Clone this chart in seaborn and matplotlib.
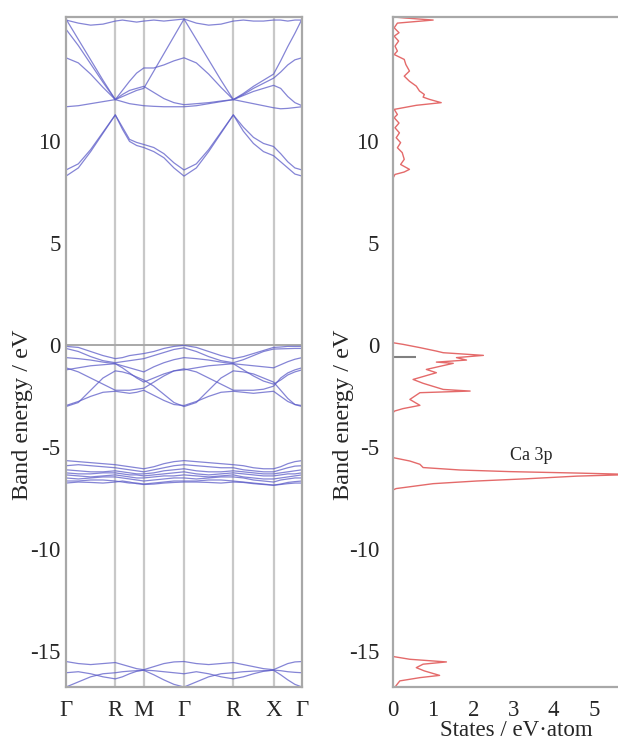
import numpy as np
import pandas as pd
import matplotlib
matplotlib.use("Agg")
import matplotlib.pyplot as plt
import seaborn as sns

# high-symmetry path (cubic cell, units of pi/a)
k_labels = ["Γ", "R", "M", "Γ", "R", "X", "Γ"]
k_ticks = [0.0, 1.732, 2.732, 4.146, 5.878, 7.292, 8.292]

# band energies (eV) sampled at each high-symmetry point and 3 points between them
# order: G q q q R q q q M q q q G q q q R q q q X q q q G
bands = {
    "T1": [15.95, 15.8, 15.7, 15.75, 15.9, 15.95, 15.9, 15.85, 15.9, 15.95, 15.9, 15.95, 16.0,
           15.8, 15.7, 15.75, 15.9, 15.95, 15.9, 15.9, 15.95, 15.95, 15.9, 15.95, 15.95],
    "C5": [16.0, 15.0, 14.0, 13.0, 12.05, 12.2, 12.35, 12.5, 12.6, 13.45, 14.3, 15.15, 16.0,
           15.0, 14.0, 13.0, 12.05, 12.35, 12.7, 13.0, 13.3, 13.95, 14.65, 15.3, 16.0],
    "C6": [15.5, 14.7, 13.8, 12.9, 12.05, 12.3, 12.5, 12.6, 12.7, 12.4, 12.1, 11.9, 11.8,
           11.85, 11.9, 11.98, 12.05, 12.25, 12.45, 12.6, 12.75, 12.6, 12.2, 11.9, 11.75],
    "C4": [14.1, 13.85, 13.3, 12.65, 12.05, 12.5, 12.95, 13.35, 13.6, 13.6, 13.75, 13.95, 14.1,
           13.85, 13.3, 12.65, 12.05, 12.3, 12.6, 12.85, 13.1, 13.4, 13.75, 14.0, 14.1],
    "C3": [11.7, 11.75, 11.85, 11.95, 12.05, 11.95, 11.85, 11.8, 11.75, 11.72, 11.7, 11.7, 11.7,
           11.75, 11.85, 11.95, 12.05, 11.95, 11.85, 11.75, 11.65, 11.6, 11.62, 11.66, 11.7],
    "C2": [8.6, 8.9, 9.6, 10.45, 11.3, 10.7, 10.1, 9.95, 9.85, 9.7, 9.4, 8.95, 8.6,
           8.9, 9.6, 10.45, 11.3, 10.7, 10.2, 9.9, 9.75, 9.4, 9.0, 8.7, 8.6],
    "C1": [8.3, 8.7, 9.5, 10.4, 11.3, 10.6, 10.0, 9.8, 9.7, 9.5, 9.2, 8.7, 8.3,
           8.7, 9.5, 10.4, 11.3, 10.5, 9.9, 9.5, 9.3, 9.0, 8.7, 8.4, 8.3],
    "V1": [-0.05, -0.1, -0.3, -0.5, -0.65, -0.6, -0.5, -0.45, -0.4, -0.3, -0.15, -0.05, 0.0,
           -0.1, -0.3, -0.5, -0.65, -0.55, -0.4, -0.25, -0.1, -0.08, -0.05, -0.05, -0.05],
    "V2": [-0.15, -0.3, -0.55, -0.75, -0.85, -0.8, -0.75, -0.7, -0.65, -0.5, -0.35, -0.2, -0.12,
           -0.3, -0.55, -0.75, -0.85, -0.7, -0.5, -0.3, -0.18, -0.17, -0.16, -0.15, -0.15],
    "V3": [-0.6, -0.65, -0.72, -0.82, -0.9, -1.0, -1.1, -1.2, -1.3, -1.05, -0.85, -0.7, -0.6,
           -0.65, -0.72, -0.82, -0.9, -0.95, -1.0, -1.05, -1.1, -0.95, -0.8, -0.68, -0.6],
    "V4": [-1.1, -1.3, -1.6, -1.9, -2.2, -2.2, -2.2, -2.15, -2.1, -1.8, -1.5, -1.25, -1.15,
           -1.3, -1.6, -1.9, -2.2, -2.2, -2.2, -2.15, -2.0, -1.6, -1.35, -1.2, -1.1],
    "V5": [-1.2, -1.1, -1.0, -0.95, -0.9, -1.1, -1.35, -1.6, -1.8, -1.6, -1.4, -1.25, -1.2,
           -1.1, -1.0, -0.95, -0.9, -1.2, -1.5, -1.75, -1.9, -1.7, -1.45, -1.3, -1.2],
    "V6": [-3.0, -2.8, -2.2, -1.6, -1.25, -1.3, -1.4, -1.55, -1.7, -2.0, -2.4, -2.8, -3.0,
           -2.8, -2.2, -1.6, -1.25, -1.3, -1.4, -1.6, -1.8, -2.2, -2.6, -2.9, -3.0],
    "V7": [-2.95, -2.75, -2.5, -2.3, -2.25, -2.3, -2.35, -2.3, -2.2, -2.45, -2.7, -2.9, -2.95,
           -2.75, -2.5, -2.3, -2.25, -2.3, -2.35, -2.3, -2.25, -2.5, -2.75, -2.9, -2.95],
    "P1": [-5.65, -5.7, -5.75, -5.8, -5.85, -5.9, -5.95, -6.0, -6.05, -5.95, -5.8, -5.7, -5.65,
           -5.7, -5.75, -5.8, -5.85, -5.9, -6.0, -6.05, -6.05, -5.95, -5.8, -5.7, -5.65],
    "P2": [-5.9, -5.85, -5.9, -5.95, -6.0, -6.05, -6.1, -6.15, -6.2, -6.1, -6.0, -5.9, -5.85,
           -5.9, -5.95, -6.0, -6.0, -6.1, -6.15, -6.2, -6.2, -6.1, -6.0, -5.92, -5.9],
    "P3": [-6.1, -6.15, -6.2, -6.2, -6.15, -6.2, -6.25, -6.3, -6.3, -6.25, -6.15, -6.1, -6.05,
           -6.15, -6.2, -6.2, -6.15, -6.2, -6.25, -6.3, -6.3, -6.25, -6.2, -6.15, -6.1],
    "P4": [-6.25, -6.3, -6.3, -6.25, -6.25, -6.3, -6.35, -6.35, -6.4, -6.35, -6.3, -6.25, -6.2,
           -6.3, -6.35, -6.3, -6.25, -6.3, -6.35, -6.4, -6.4, -6.35, -6.3, -6.3, -6.25],
    "P5": [-6.35, -6.4, -6.45, -6.4, -6.35, -6.4, -6.45, -6.5, -6.5, -6.45, -6.4, -6.4, -6.35,
           -6.4, -6.45, -6.4, -6.35, -6.45, -6.5, -6.55, -6.55, -6.5, -6.45, -6.4, -6.35],
    "P6": [-6.5, -6.55, -6.5, -6.45, -6.45, -6.5, -6.55, -6.6, -6.65, -6.6, -6.55, -6.5, -6.5,
           -6.55, -6.5, -6.45, -6.45, -6.5, -6.6, -6.65, -6.7, -6.6, -6.55, -6.5, -6.5],
    "P7": [-6.65, -6.65, -6.6, -6.6, -6.65, -6.7, -6.75, -6.75, -6.8, -6.75, -6.7, -6.65, -6.65,
           -6.65, -6.6, -6.6, -6.65, -6.7, -6.75, -6.8, -6.85, -6.8, -6.72, -6.68, -6.65],
    "P8": [-6.75, -6.7, -6.72, -6.75, -6.7, -6.65, -6.7, -6.78, -6.82, -6.8, -6.75, -6.72, -6.7,
           -6.7, -6.72, -6.75, -6.7, -6.72, -6.78, -6.82, -6.86, -6.82, -6.78, -6.75, -6.75],
    "S1": [-15.5, -15.6, -15.65, -15.6, -15.55, -15.65, -15.75, -15.85, -15.9, -15.75, -15.6, -15.52, -15.5,
           -15.6, -15.65, -15.6, -15.55, -15.65, -15.75, -15.85, -15.9, -15.75, -15.6, -15.52, -15.5],
    "S2": [-16.05, -16.0, -16.1, -16.25, -16.35, -16.25, -16.1, -15.98, -15.92, -15.95, -16.0, -16.05, -16.1,
           -16.0, -16.1, -16.25, -16.35, -16.25, -16.1, -15.98, -15.92, -15.95, -16.0, -16.03, -16.05],
    "S3": [-16.75, -16.5, -16.25, -16.1, -16.05, -16.0, -15.97, -15.95, -15.93, -16.15, -16.4, -16.62, -16.75,
           -16.5, -16.25, -16.1, -16.05, -16.0, -15.97, -15.95, -15.93, -16.15, -16.4, -16.62, -16.75],
}

# Ca partial DOS (states / eV·atom) against energy
dos_energy = [16.1, 16.05, 15.95, 15.8, 15.57, 15.33, 15.16, 14.92, 14.67, 14.43, 14.26, 14.02,
              13.77, 13.45, 13.2, 12.95, 12.71, 12.47, 12.3, 12.17, 12.06, 11.9, 11.77, 11.57,
              11.32, 11.16, 10.9, 10.67, 10.42, 10.18, 9.94, 9.69, 9.45, 9.12, 8.87, 8.63, 8.5,
              8.38, 8.2, 0.2, 0.13, 0.05, -0.11, -0.28, -0.36, -0.49, -0.6, -0.72, -0.82, -0.88,
              -1.18, -1.34, -1.67, -1.86, -2.16, -2.24, -2.32, -2.65, -2.94, -3.1, -3.22, -3.3,
              -5.45, -5.51, -5.67, -5.83, -5.99, -6.11, -6.19, -6.26, -6.33, -6.41, -6.54, -6.65,
              -6.78, -7.02, -7.09, -15.2, -15.26, -15.39, -15.52, -15.63, -15.8, -15.96, -16.18,
              -16.29, -16.45, -16.7]
dos_states = [0.02, 0.3, 1.0, 0.11, 0.03, 0.15, 0.03, 0.14, 0.05, 0.11, 0.03, 0.28,
              0.32, 0.41, 0.28, 0.41, 0.58, 0.66, 0.78, 0.75, 0.91, 1.2, 0.58, 0.03,
              0.11, 0.03, 0.15, 0.05, 0.16, 0.08, 0.19, 0.11, 0.23, 0.28, 0.19, 0.41, 0.28,
              0.05, 0.0, 0.0, 0.0, 0.25, 0.67, 1.08, 1.25, 2.25, 1.58, 1.83, 1.08, 1.5,
              0.83, 1.08, 0.5, 0.75, 1.25, 1.92, 0.67, 0.42, 0.67, 0.25, 0.04, 0.0,
              0.0, 0.02, 0.42, 0.67, 0.75, 1.67, 2.92, 4.58, 6.0, 4.58, 3.33, 2.08,
              1.0, 0.08, 0.0, 0.0, 0.02, 0.42, 1.33, 0.75, 0.58, 0.78, 1.16,
              0.67, 0.17, 0.07]

fermi_mark_e = -0.55
fermi_mark_len = 0.57
peak_label = "Ca 3p"
peak_label_pos = (3.45, -5.4)

# k coordinate of every sample: 4 steps per segment along the path
k_grid = np.concatenate([np.linspace(a, b, 5)[:-1] for a, b in zip(k_ticks[:-1], k_ticks[1:])] + [[k_ticks[-1]]])

band_df = pd.concat(
    [pd.DataFrame({"k": k_grid, "E": e, "band": name}) for name, e in bands.items()],
    ignore_index=True,
)
dos_df = pd.DataFrame({"E": dos_energy, "D": dos_states})

sns.set_style("white")
plt.rcParams["font.family"] = ["Liberation Serif", "DejaVu Serif"]

fig = plt.figure(figsize=(6.18, 7.42), dpi=100)
ax1 = fig.add_axes([0.1068, 0.0741, 0.3819, 0.903])
ax2 = fig.add_axes([0.6359, 0.0741, 0.3641, 0.903])

grey = "#a8a8a8"
ylim = (-16.75, 16.1)
yt = [-15, -10, -5, 0, 5, 10]

# band structure
for k in k_ticks[1:-1]:
    ax1.axvline(k, color="#c8c8c8", lw=1.6, zorder=0)
ax1.axhline(0, color=grey, lw=1.4, zorder=0)
sns.lineplot(data=band_df, x="k", y="E", units="band", estimator=None, sort=False,
             color="#5c5cc8", lw=0.9, alpha=0.75, ax=ax1, legend=False)
ax1.set_xlim(k_ticks[0], k_ticks[-1])
ax1.set_ylim(*ylim)
ax1.set_xticks(k_ticks)
ax1.set_xticklabels(k_labels, fontsize=16.5)
ax1.set_yticks(yt)
ax1.set_yticklabels([str(v) for v in yt], fontsize=16.5)
ax1.set_xlabel("")
ax1.set_ylabel("Band energy / eV", fontsize=17.5)
ax1.yaxis.set_label_coords(-0.14, 0.407)
ax1.tick_params(axis="y", pad=1)
ax1.tick_params(axis="x", pad=6)

# DOS
sns.lineplot(data=dos_df, x="D", y="E", estimator=None, sort=False, orient="y",
             color="#e46a6a", lw=1.0, ax=ax2)
ax2.hlines(fermi_mark_e, 0, fermi_mark_len, color="#808080", lw=1.5)
ax2.text(peak_label_pos[0], peak_label_pos[1], peak_label, fontsize=13, ha="center", va="center")
ax2.set_xlim(0, 5.6)
ax2.set_ylim(*ylim)
ax2.set_xticks([0, 1, 2, 3, 4, 5])
ax2.set_xticklabels(["0", "1", "2", "3", "4", "5"], fontsize=16.5)
ax2.set_yticks(yt)
ax2.set_yticklabels([str(v) for v in yt], fontsize=16.5)
ax2.set_ylabel("Band energy / eV", fontsize=17.5)
ax2.yaxis.set_label_coords(-0.173, 0.407)
ax2.set_xlabel("States / eV·atom", fontsize=16.5)
ax2.xaxis.set_label_coords(0.55, -0.0805)
ax2.xaxis.label.set_va("bottom")
ax2.tick_params(axis="y", pad=7)
ax2.tick_params(axis="x", pad=6)
ax2.spines["right"].set_visible(False)

for ax in (ax1, ax2):
    for s in ax.spines.values():
        s.set_color(grey)
        s.set_linewidth(1.6)
    ax.tick_params(axis="both", length=3, width=1, color=grey)

fig.savefig("out.png", dpi=100)
